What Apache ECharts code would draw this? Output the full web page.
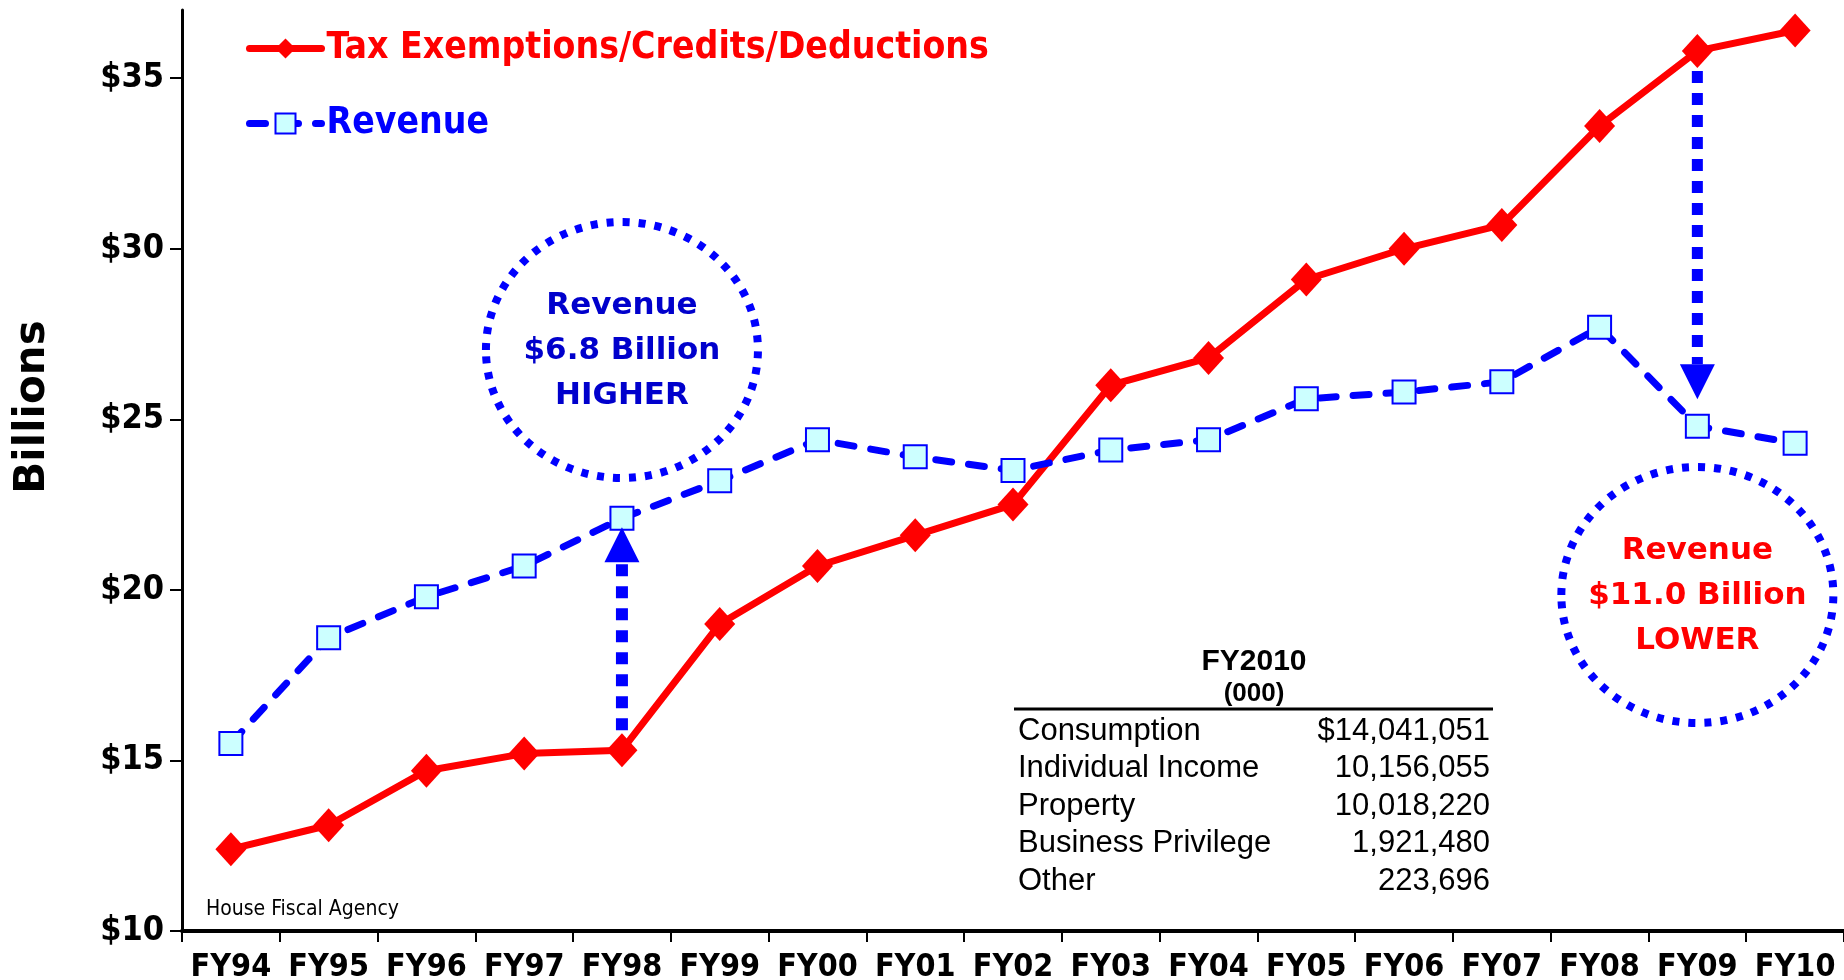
<!DOCTYPE html>
<html>
<head>
<meta charset="utf-8">
<script src="https://cdn.jsdelivr.net/npm/echarts@6/dist/echarts.min.js"></script>
<style>
  html, body { margin: 0; padding: 0; background: #ffffff; }
  #chart { width: 1844px; height: 980px; }
</style>
</head>
<body>
<div id="chart"></div>
<script>
// Fiscal years on the horizontal axis
const categories = ['FY94', 'FY95', 'FY96', 'FY97', 'FY98', 'FY99', 'FY00', 'FY01', 'FY02',
                    'FY03', 'FY04', 'FY05', 'FY06', 'FY07', 'FY08', 'FY09', 'FY10'];
// Tax exemptions / credits / deductions, $ billions
const taxBreaks = [12.4, 13.1, 14.7, 15.2, 15.3, 19.0, 20.7, 21.6, 22.5,
                   26.0, 26.8, 29.1, 30.0, 30.7, 33.6, 35.8, 36.4];
// Revenue, $ billions
const revenue = [15.5, 18.6, 19.8, 20.7, 22.1, 23.2, 24.4, 23.9, 23.5,
                 24.1, 24.4, 25.6, 25.8, 26.1, 27.7, 24.8, 24.3];
// Value-axis ticks
const yTicks = [10, 15, 20, 25, 30, 35];
// FY2010 breakdown table (thousands)
const tableLabels = ['Consumption', 'Individual Income', 'Property', 'Business Privilege', 'Other'];
const tableValues = ['$14,041,051', '10,156,055', '10,018,220', '1,921,480', '223,696'];
// Years compared in the two callouts
const highYear = 'FY98';
const lowYear = 'FY09';

const TAX_NAME = 'Tax Exemptions/Credits/Deductions';
const REV_NAME = 'Revenue';
const COND = '"DejaVu Sans Condensed", "DejaVu Sans", sans-serif';
const WIDE = '"DejaVu Sans", sans-serif';
const ARIAL = '"Liberation Sans", Arial, sans-serif';

const chart = echarts.init(document.getElementById('chart'), null, { renderer: 'canvas' });

const option = {
  animation: false,
  backgroundColor: '#ffffff',
  grid: { left: 182, right: 0, top: 10, bottom: 49, outerBoundsMode: 'none', containLabel: false },
  legend: {
    orient: 'vertical',
    left: 241,
    top: 23,
    itemWidth: 72,
    itemHeight: 25,
    itemGap: 34,
    selectedMode: false,
    lineStyle: { width: 'inherit' },
    textStyle: { fontFamily: COND, fontWeight: 'bold', fontSize: 37, lineHeight: 41 },
    data: [
      { name: TAX_NAME, textStyle: { color: '#FF0000' } },
      { name: REV_NAME, textStyle: { color: '#0000FF' } }
    ]
  },
  xAxis: {
    type: 'category',
    data: categories,
    boundaryGap: true,
    axisLine: { lineStyle: { color: '#000000', width: 4 } },
    axisTick: { show: true, length: 11, lineStyle: { color: '#000000', width: 2 } },
    axisLabel: { color: '#000000', fontFamily: COND, fontWeight: 'bold', fontSize: 32, margin: 21, interval: 0 }
  },
  yAxis: {
    type: 'value',
    min: 10,
    max: 37,
    interval: 5,
    axisLine: { show: true, lineStyle: { color: '#000000', width: 3 } },
    axisTick: { show: true, length: 12, customValues: yTicks, lineStyle: { color: '#000000', width: 2 } },
    axisLabel: {
      customValues: yTicks,
      formatter: v => '$' + v,
      color: '#000000', fontFamily: COND, fontWeight: 'bold', fontSize: 34, margin: 18
    },
    splitLine: { show: false }
  },
  series: [
    {
      name: TAX_NAME,
      type: 'line',
      data: taxBreaks,
      symbol: 'diamond',
      symbolSize: [31, 34],
      lineStyle: { color: '#FF0000', width: 7, cap: 'round' },
      itemStyle: { color: '#FF0000' },
      emphasis: { disabled: true },
      z: 2
    },
    {
      name: REV_NAME,
      type: 'line',
      data: revenue,
      symbol: 'rect',
      symbolSize: 23,
      lineStyle: { color: '#0000FF', width: 7, type: [16, 17], cap: 'round' },
      itemStyle: { color: '#CCFFFF', borderColor: '#0000FF', borderWidth: 2 },
      emphasis: { disabled: true },
      z: 3
    }
  ]
};
chart.setOption(option);

// ---- annotations positioned through the chart's own scales ----
const px = (i, v) => chart.convertToPixel({ seriesIndex: 0 }, [i, v]);

function dottedArrow(x, yFrom, yTip, shaftW) {
  const dir = yTip > yFrom ? 1 : -1;
  const headH = 35, headW = 35;
  const yBase = yTip - dir * headH;
  return [
    {
      type: 'line', z: 10, silent: true,
      shape: { x1: x, y1: yFrom, x2: x, y2: yBase },
      style: { stroke: '#0000FF', lineWidth: shaftW, lineDash: [12, 10], lineCap: 'butt' }
    },
    {
      type: 'polygon', z: 10, silent: true,
      shape: { points: [[x - headW / 2, yBase], [x + headW / 2, yBase], [x, yTip]] },
      style: { fill: '#0000FF' }
    }
  ];
}

function callout(cx, cy, lines, color) {
  return [
    {
      type: 'ellipse', z: 10, silent: true,
      shape: { cx: cx, cy: cy, rx: 136, ry: 128 },
      style: { fill: null, stroke: '#0000FF', lineWidth: 8, lineDash: [7, 9] }
    },
    {
      type: 'text', z: 11, silent: true,
      x: cx, y: cy + 1,
      style: {
        text: lines.join('\n'),
        fill: color,
        font: 'bold 31px ' + WIDE,
        lineHeight: 45,
        align: 'center',
        verticalAlign: 'middle'
      }
    }
  ];
}

const hi = categories.indexOf(highYear);
const lo = categories.indexOf(lowYear);
const hiTax = px(hi, taxBreaks[hi]);
const hiRev = px(hi, revenue[hi]);
const loTax = px(lo, taxBreaks[lo]);
const loRev = px(lo, revenue[lo]);
const hiDiff = (revenue[hi] - taxBreaks[hi]).toFixed(1);
const loDiff = (taxBreaks[lo] - revenue[lo]).toFixed(1);

const graphics = [];
graphics.push(...dottedArrow(hiTax[0], hiTax[1] - 20, hiRev[1] + 9, 12));
graphics.push(...dottedArrow(loTax[0], loTax[1] + 20, loRev[1] - 27, 11));
graphics.push(...callout(hiTax[0], 350, [REV_NAME, '$' + hiDiff + ' Billion', 'HIGHER'], '#0000CC'));
graphics.push(...callout(loTax[0], 595, [REV_NAME, '$' + loDiff + ' Billion', 'LOWER'], '#FF0000'));

// value-axis title
graphics.push({
  type: 'text', silent: true, x: 33, y: 407, rotation: Math.PI / 2,
  style: { text: 'Billions', font: 'bold 42px ' + WIDE, fill: '#000000', align: 'center', verticalAlign: 'middle' }
});

// FY2010 breakdown table
const tblLeft = 1018, tblRight = 1490, tblTop = 731, rowH = 37.6;
graphics.push({
  type: 'text', silent: true, x: 1254, y: 662,
  style: { text: 'FY2010', font: 'bold 30px ' + ARIAL, fill: '#000000', align: 'center', verticalAlign: 'middle' }
});
graphics.push({
  type: 'text', silent: true, x: 1254, y: 694,
  style: { text: '(000)', font: 'bold 26px ' + ARIAL, fill: '#000000', align: 'center', verticalAlign: 'middle' }
});
graphics.push({
  type: 'line', silent: true,
  shape: { x1: 1014, y1: 709, x2: 1493, y2: 709 },
  style: { stroke: '#000000', lineWidth: 3 }
});
tableLabels.forEach((label, i) => {
  const y = tblTop + i * rowH;
  graphics.push({
    type: 'text', silent: true, x: tblLeft, y: y,
    style: { text: label, font: '31px ' + ARIAL, fill: '#000000', align: 'left', verticalAlign: 'middle' }
  });
  graphics.push({
    type: 'text', silent: true, x: tblRight, y: y,
    style: { text: tableValues[i], font: '31px ' + ARIAL, fill: '#000000', align: 'right', verticalAlign: 'middle' }
  });
});

// source note
graphics.push({
  type: 'text', silent: true, x: 206, y: 910,
  style: { text: 'House Fiscal Agency', font: '21px ' + COND, fill: '#000000', align: 'left', verticalAlign: 'middle' }
});

chart.setOption({ graphic: { elements: graphics } });
</script>
</body>
</html>
